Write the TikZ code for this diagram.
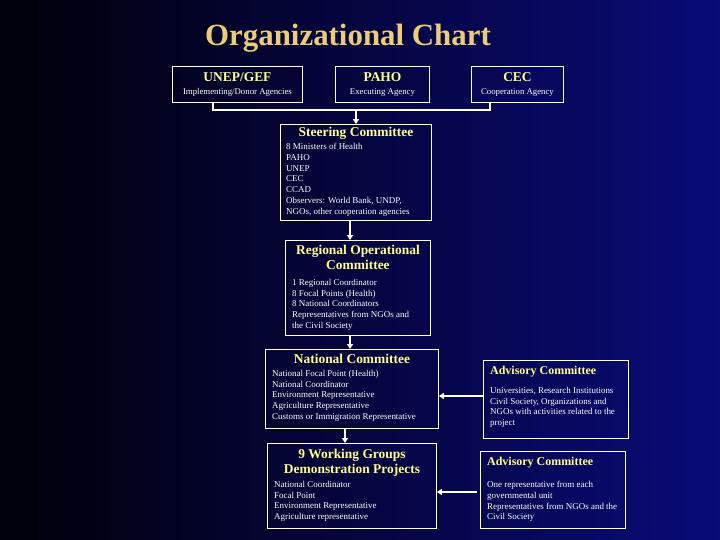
\documentclass[tikz,border=0pt]{standalone}
\usepackage{fontspec}
\setmainfont{Liberation Serif}
\usetikzlibrary{arrows.meta}
\definecolor{gold}{RGB}{235,205,120}
\definecolor{hy}{RGB}{255,255,140}
\definecolor{bgl}{RGB}{0,0,8}
\definecolor{bgr}{RGB}{10,10,120}
\tikzset{
 box/.style={draw=white, line width=0.9pt, anchor=north west, inner sep=0pt},
 hd/.style={text=hy, font=\fontsize{13.5}{15}\selectfont\bfseries, align=center, anchor=north, inner sep=0pt},
 sub/.style={text=white, font=\fontsize{8.8}{9}\selectfont, anchor=north, inner sep=0pt},
 bd/.style={text=white, font=\fontsize{9}{10.8}\selectfont, align=left, anchor=north west, inner sep=0pt},
 con/.style={white, line width=1.5pt},
 arr/.style={white, line width=1.5pt, -{Triangle[length=5pt,width=6pt]}}
}
\begin{document}
\begin{tikzpicture}[x=1bp,y=-1bp]
\shade[left color=bgl, right color=bgr] (0,0) rectangle (720,540);
\useasboundingbox (0,0) rectangle (720,540);
\node[text=gold, font=\fontsize{31}{33}\selectfont\bfseries] (title) at (348,38) {Organizational Chart};
% top boxes
\node[box, minimum width=130bp, minimum height=36bp] (unep) at (172,66) {};
\node[hd] (unepH) at ([yshift=-6bp]unep.north) {UNEP/GEF};
\node[sub] (unepS) at ([yshift=-22bp]unep.north) {Implementing/Donor Agencies};
\node[box, minimum width=94bp, minimum height=36bp] (paho) at (335,66) {};
\node[hd] (pahoH) at ([yshift=-6bp]paho.north) {PAHO};
\node[sub] (pahoS) at ([yshift=-22bp]paho.north) {Executing Agency};
\node[box, minimum width=92bp, minimum height=36bp] (cec) at (471,66) {};
\node[hd] (cecH) at ([yshift=-6bp]cec.north) {CEC};
\node[sub] (cecS) at ([yshift=-22bp]cec.north) {Cooperation Agency};
\coordinate (jl) at (213,110);
\coordinate (jr) at (490,110);
\coordinate (jm) at (356,110);
\draw[con] (unep.south -| jl) -- (jl) -- (jr) -- (cec.south -| jr);
% steering
\node[box, minimum width=151bp, minimum height=96bp] (steer) at (280,124) {};
\draw[arr] (jm) -- (steer.north -| jm);
\node[hd] (steerH) at ([yshift=-3bp]steer.north) {Steering Committee};
\node[bd] (steerB) at ([xshift=6bp,yshift=-19bp]steer.north west) {8 Ministers of Health\\PAHO\\UNEP\\CEC\\CCAD\\Observers: World Bank, UNDP,\\NGOs, other cooperation agencies};
% regional
\node[box, minimum width=145bp, minimum height=95bp] (roc) at (285,240) {};
\draw[arr] (steer.south -| 350,0) -- (roc.north -| 350,0);
\node[hd] (rocH) at ([yshift=-5bp]roc.north) {Regional Operational\\Committee};
\node[bd] (rocB) at ([xshift=7bp,yshift=-39bp]roc.north west) {1 Regional Coordinator\\8 Focal Points (Health)\\8 National Coordinators\\Representatives from NGOs and\\the Civil Society};
% national
\node[box, minimum width=173bp, minimum height=79bp] (nc) at (265,349) {};
\draw[arr] (roc.south -| 350,0) -- (nc.north -| 350,0);
\node[hd] (ncH) at ([yshift=-5bp]nc.north) {National Committee};
\node[bd] (ncB) at ([xshift=7bp,yshift=-21bp]nc.north west) {National Focal Point  (Health)\\National Coordinator\\Environment Representative\\Agriculture Representative\\Customs or Immigration Representative};
% working groups
\node[box, minimum width=169bp, minimum height=85bp] (wg) at (267,443) {};
\draw[arr] (nc.south -| 345,0) -- (wg.north -| 345,0);
\node[hd] (wgH) at ([yshift=-6bp]wg.north) {9 Working Groups\\Demonstration Projects};
\node[bd] (wgB) at ([xshift=7bp,yshift=-38bp]wg.north west) {National Coordinator\\Focal Point\\Environment Representative\\Agriculture representative};
% advisory 1
\node[box, minimum width=145bp, minimum height=78bp] (adv1) at (483,360) {};
\node[hd, font=\fontsize{12}{13}\selectfont\bfseries, anchor=north west] (adv1H) at ([xshift=7bp,yshift=-6bp]adv1.north west) {Advisory Committee};
\node[bd] (adv1B) at ([xshift=7bp,yshift=-27bp]adv1.north west) {Universities, Research Institutions\\Civil Society, Organizations and\\NGOs with activities related to the\\project};
\draw[arr] (adv1.west |- 0,396) -- (nc.east |- 0,396);
% advisory 2
\node[box, minimum width=145bp, minimum height=77bp] (adv2) at (480,451) {};
\node[hd, font=\fontsize{12}{13}\selectfont\bfseries, anchor=north west] (adv2H) at ([xshift=7bp,yshift=-6bp]adv2.north west) {Advisory Committee};
\node[bd] (adv2B) at ([xshift=7bp,yshift=-30bp]adv2.north west) {One representative from each\\governmental unit\\Representatives from NGOs and the\\Civil Society};
\draw[arr] ([xshift=-3bp]adv2.west |- 0,492) -- (wg.east |- 0,492);
\end{tikzpicture}
\end{document}
